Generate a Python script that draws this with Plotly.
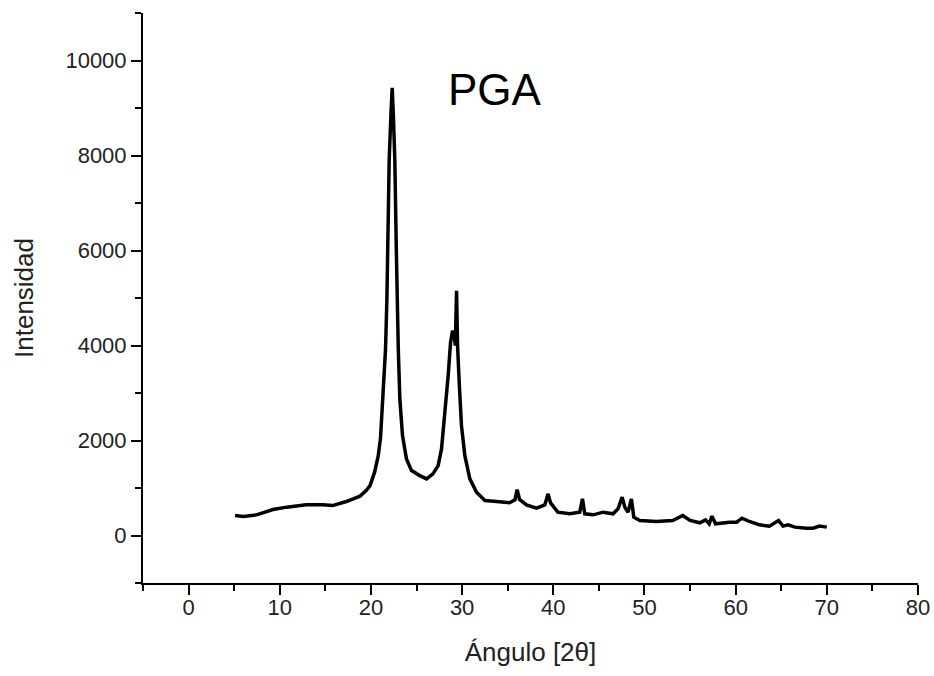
import plotly.graph_objects as go

# XRD pattern
two_theta = [5.1, 6.0, 7.45, 8.5, 9.25, 10.75, 12.9, 14.7, 15.8, 17.3, 18.8, 19.5,
             19.9, 20.4, 20.8, 21.05, 21.3, 21.6, 21.75, 21.85, 22.0, 22.2, 22.33,
             22.45, 22.62, 22.78, 22.87, 23.0, 23.17, 23.46, 23.9, 24.45, 25.36,
             26.1, 26.8, 27.37, 27.74, 28.1, 28.47, 28.73, 28.95, 29.12, 29.25,
             29.39, 29.5, 29.68, 29.93, 30.3, 30.85, 31.58, 32.5, 33.77, 35.2,
             35.8, 36.03, 36.3, 37.06, 38.16, 39.07, 39.43, 39.7, 40.5, 41.8,
             42.9, 43.2, 43.45, 44.37, 45.46, 46.56, 47.1, 47.55, 47.84, 48.2,
             48.57, 48.83, 49.5, 51.3, 53.1, 54.2, 55.0, 56.06, 56.7, 57.1, 57.4,
             57.8, 59.35, 60.1, 60.7, 61.5, 62.6, 63.7, 64.7, 65.2, 65.75, 66.5,
             67.76, 68.5, 69.2, 70.0]
intensity = [420, 400, 435, 500, 547, 597, 645, 645, 630, 715, 828, 950,
             1051, 1333, 1682, 2050, 2874, 3925, 4976, 6100, 7900, 8900, 9426,
             8900, 7900, 6050, 4976, 3925, 2874, 2102, 1612, 1366, 1261,
             1192, 1297, 1472, 1822, 2523, 3364, 4065, 4309, 4240, 4000,
             5150, 3994, 3224, 2312, 1682, 1192, 912, 736, 715, 690,
             750, 967, 760, 645, 575, 645, 877, 687, 491, 456,
             491, 771, 456, 435, 491, 456, 561, 807, 597, 491,
             771, 386, 316, 295, 316, 421, 316, 267, 330, 246, 407,
             246, 281, 281, 365, 295, 225, 197, 316, 197, 225, 176,
             155, 155, 197, 176]

x_ticks = [0, 10, 20, 30, 40, 50, 60, 70, 80]
y_ticks = [0, 2000, 4000, 6000, 8000, 10000]

fig = go.Figure()

fig.add_trace(go.Scatter(
    x=two_theta,
    y=intensity,
    mode='lines',
    line=dict(color='black', width=3.5),
    showlegend=False
))

fig.add_annotation(x=33.6, y=9400, text="PGA", showarrow=False,
                   font=dict(size=44, color='black'),
                   xanchor='center', yanchor='middle')

axis_style = dict(
    showline=True, linecolor='black', linewidth=2,
    ticks='outside', ticklen=10, tickwidth=2, tickcolor='black',
    showgrid=False, zeroline=False, automargin=False,
    tickfont=dict(size=22, color='#222'),
)

fig.update_xaxes(
    range=[-5, 80], tickvals=x_ticks, ticklabelstandoff=-6,
    minor=dict(dtick=5, tick0=0, ticks='outside', ticklen=6, tickwidth=2,
               tickcolor='black', showgrid=False),
    title=dict(text="Ángulo [2θ]", font=dict(size=26, color='#222'), standoff=23),
    **axis_style
)
fig.update_yaxes(
    range=[-1000, 11000], tickvals=y_ticks, tickformat='d',
    minor=dict(dtick=1000, tick0=0, ticks='outside', ticklen=6, tickwidth=2,
               tickcolor='black', showgrid=False),
    title=dict(text="Intensidad", font=dict(size=26, color='#222'), standoff=24),
    **axis_style
)

fig.update_layout(
    width=934, height=676,
    margin=dict(l=143, r=16, t=13, b=93),
    plot_bgcolor='white', paper_bgcolor='white',
    font=dict(family='Liberation Sans, Arial, sans-serif'),
)

# drop the default page margin so the figure sits at the window's corner
fig.write_html("out.html", config={'displayModeBar': False},
               post_script="document.body.style.margin='0';")
